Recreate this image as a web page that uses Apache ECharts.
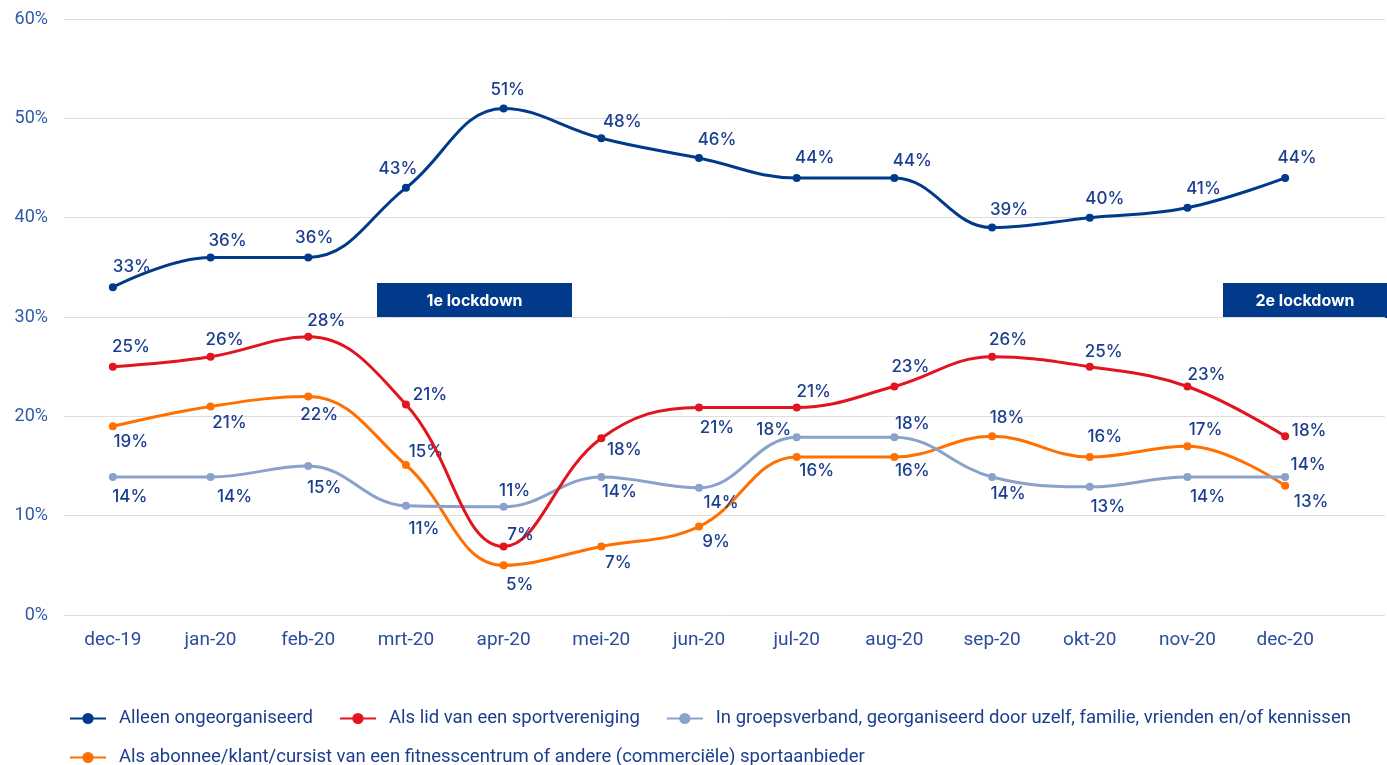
<!DOCTYPE html>
<html>
<head>
<meta charset="utf-8">
<script src="https://cdn.jsdelivr.net/npm/echarts@6/dist/echarts.min.js"></script>
<style>
html,body{margin:0;padding:0;background:#fff;}
#chart{width:1387px;height:765px;}
</style>
</head>
<body>
<div id="chart"></div>
<script>
// ---- data ----
var categories = ['dec-19','jan-20','feb-20','mrt-20','apr-20','mei-20','jun-20','jul-20','aug-20','sep-20','okt-20','nov-20','dec-20'];
var seriesNames = [
  'Alleen ongeorganiseerd',
  'Als lid van een sportvereniging',
  'In groepsverband, georganiseerd door uzelf, familie, vrienden en/of kennissen',
  'Als abonnee/klant/cursist van een fitnesscentrum of andere (commerciële) sportaanbieder'
];
var alleen   = [33, 36, 36, 43, 51, 48, 46, 44, 44, 39, 40, 41, 44];
var lid      = [25, 26, 28, 21.2, 6.9, 17.8, 20.9, 20.9, 23, 26, 25, 23, 18];
var groep    = [13.9, 13.9, 15, 11, 10.9, 13.9, 12.8, 17.9, 17.9, 13.9, 12.9, 13.9, 13.9];
var abonnee  = [19, 21, 22, 15.1, 5, 6.9, 8.9, 15.9, 15.9, 18, 15.9, 17, 13];
var alleenLabels  = [33, 36, 36, 43, 51, 48, 46, 44, 44, 39, 40, 41, 44];
var lidLabels     = [25, 26, 28, 21, 7, 18, 21, 21, 23, 26, 25, 23, 18];
var groepLabels   = [14, 14, 15, 11, 11, 14, 14, 18, 18, 14, 13, 14, 14];
var abonneeLabels = [19, 21, 22, 15, 5, 7, 9, 16, 16, 18, 16, 17, 13];
var yTicks = [0, 10, 20, 30, 40, 50, 60];
var lockdowns = ['1e lockdown', '2e lockdown'];

// ---- layout/style (not data) ----
var colors = ['#013a8b', '#e1141f', '#8aa2cb', '#ff7000'];
var labelOffsets = [
  [[19,-20],[17,-17],[6,-20],[-8,-19],[4,-19],[21,-16],[18,-18],[18,-20],[18,-17],[17,-18],[15,-19],[16,-19],[12,-20]],
  [[18,-20],[14,-17],[18,-16],[24,-10],[17,-12],[23,12],[18,20],[17,-16],[16,-20],[16,-17],[14,-15],[19,-12],[24,-5]],
  [[17,20],[24,20],[16,22],[18,23],[11,-16],[18,15],[22,15],[-23,-7],[18,-13],[16,17],[18,20],[20,20],[23,-12]],
  [[18,16],[19,16],[11,18],[20,-13],[16,20],[17,16],[17,15],[20,14],[18,14],[15,-18],[15,-20],[18,-16],[26,16]]
];
var labelColor = '#1b3e8e';
var labelFont = 'Inter, "Noto Sans", sans-serif';

function mkSeries(idx, values, labels) {
  return {
    name: seriesNames[idx],
    type: 'line',
    xAxisIndex: 1,
    yAxisIndex: 1,
    smooth: 0.4,
    symbol: 'circle',
    symbolSize: 8,
    lineStyle: { width: 3, color: colors[idx] },
    itemStyle: { color: colors[idx] },
    z: 10 - idx,
    data: values.map(function (v, i) {
      return {
        value: v,
        label: {
          show: true,
          position: 'inside',
          offset: labelOffsets[idx][i],
          formatter: labels[i] + '%',
          color: labelColor,
          fontFamily: labelFont,
          fontSize: 17,
          fontWeight: 500
        }
      };
    })
  };
}

var legendText = { color: labelColor, fontSize: 18.5, fontFamily: 'Roboto, sans-serif', padding: [0, 0, 0, 8] };

var chart = echarts.init(document.getElementById('chart'));
var option = {
  animation: false,
  backgroundColor: '#fff',
  grid: [
    { left: 64, right: 2, top: 19, bottom: 150 },
    { left: 64, right: 53, top: 19, bottom: 150 }
  ],
  xAxis: [
    { type: 'value', gridIndex: 0, min: 0, max: 1, show: false },
    {
      type: 'category', gridIndex: 1, data: categories, boundaryGap: true,
      axisLine: { show: false }, axisTick: { show: false },
      axisLabel: { color: '#2a4c9c', fontSize: 19, margin: 16, fontFamily: 'Roboto, sans-serif' }
    }
  ],
  yAxis: [
    {
      type: 'value', gridIndex: 0, min: yTicks[0], max: yTicks[yTicks.length - 1], interval: 10,
      axisLine: { show: false }, axisTick: { show: false },
      splitLine: { lineStyle: { color: '#dedede', width: 1 } },
      axisLabel: { color: '#2f5aa8', fontSize: 18, margin: 16, fontFamily: 'Roboto, sans-serif', formatter: '{value}%' }
    },
    {
      type: 'value', gridIndex: 1, min: yTicks[0], max: yTicks[yTicks.length - 1], interval: 10,
      show: false, splitLine: { show: false }
    }
  ],
  legend: [
    {
      left: 64, top: 704, width: 1323, itemWidth: 36, itemHeight: 14, itemGap: 26,
      data: seriesNames.slice(0, 3),
      textStyle: legendText
    },
    {
      left: 64, top: 743, width: 1323, itemWidth: 36, itemHeight: 14, itemGap: 26,
      data: seriesNames.slice(3),
      textStyle: legendText
    }
  ],
  graphic: [
    {
      type: 'group', left: 377, top: 283,
      children: [
        { type: 'rect', shape: { x: 0, y: 0, width: 195, height: 35 }, style: { fill: '#013a8b' } },
        { type: 'text', x: 97.5, y: 18, style: { text: lockdowns[0], fill: '#fff', font: 'bold 16px Inter, sans-serif', textAlign: 'center', textVerticalAlign: 'middle' } }
      ]
    },
    {
      type: 'group', left: 1223, top: 283,
      children: [
        { type: 'rect', shape: { x: 0, y: 0, width: 164, height: 35 }, style: { fill: '#013a8b' } },
        { type: 'text', x: 82, y: 18, style: { text: lockdowns[1], fill: '#fff', font: 'bold 16px Inter, sans-serif', textAlign: 'center', textVerticalAlign: 'middle' } }
      ]
    }
  ],
  series: [
    mkSeries(0, alleen, alleenLabels),
    mkSeries(1, lid, lidLabels),
    mkSeries(2, groep, groepLabels),
    mkSeries(3, abonnee, abonneeLabels)
  ]
};
chart.setOption(option);
</script>
</body>
</html>
